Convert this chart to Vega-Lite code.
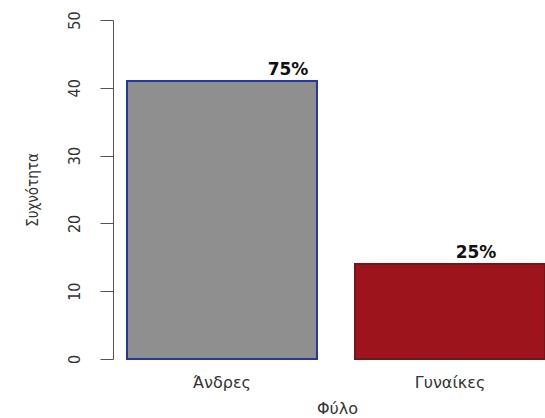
{
  "$schema": "https://vega.github.io/schema/vega-lite/v6.json",
  "autosize": "none",
  "padding": {"left": 113, "top": 20, "right": 0, "bottom": 59},
  "width": 432,
  "height": 339,
  "background": "white",
  "config": {"view": {"stroke": null}},
  "data": {"values": [
    {"sex": "Άνδρες", "count": 41, "label": "75%"},
    {"sex": "Γυναίκες", "count": 14, "label": "25%"}
  ]},
  "encoding": {
    "x": {
      "field": "sex", "type": "nominal", "sort": null,
      "scale": {"paddingInner": 0.1667, "paddingOuter": 0.0307, "align": 1},
      "axis": {
        "title": "Φύλο", "titleFont": "DejaVu Sans", "titleFontSize": 16, "titleFontWeight": "normal",
        "titleColor": "#333", "titlePadding": 10, "titleX": 224,
        "labelAngle": 0, "labelFont": "DejaVu Sans", "labelFontSize": 16, "labelColor": "#333",
        "labelPadding": 15, "labelBaseline": "top",
        "domain": false, "ticks": false
      }
    },
    "y": {
      "field": "count", "type": "quantitative",
      "scale": {"domain": [0, 50], "nice": false, "zero": true},
      "axis": {
        "title": "Συχνότητα", "titleFont": "DejaVu Sans Condensed", "titleFontSize": 15, "titleFontWeight": "normal",
        "titleColor": "#333", "titlePadding": 26,
        "values": [0, 10, 20, 30, 40, 50],
        "labelAngle": 270, "labelAlign": "center", "labelBaseline": "bottom",
        "labelFont": "DejaVu Sans Condensed", "labelFontSize": 16, "labelColor": "#333", "labelPadding": 18,
        "tickSize": 13, "tickColor": "#555", "domainColor": "#555", "grid": false
      }
    }
  },
  "layer": [
    {
      "mark": {"type": "bar", "strokeWidth": 2},
      "encoding": {
        "color": {"field": "sex", "type": "nominal", "scale": {"domain": ["Άνδρες", "Γυναίκες"], "range": ["#8f8f8f", "#9e141c"]}, "legend": null},
        "stroke": {"field": "sex", "type": "nominal", "scale": {"domain": ["Άνδρες", "Γυναίκες"], "range": ["#26399a", "#6a1a1a"]}, "legend": null}
      }
    },
    {
      "transform": [{"filter": "datum.sex === 'Άνδρες'"}],
      "mark": {"type": "text", "font": "DejaVu Sans", "fontWeight": "bold", "fontSize": 17, "color": "#111", "baseline": "alphabetic", "dy": -6, "xOffset": 66},
      "encoding": {"text": {"field": "label"}}
    },
    {
      "transform": [{"filter": "datum.sex === 'Γυναίκες'"}],
      "mark": {"type": "text", "font": "DejaVu Sans", "fontWeight": "bold", "fontSize": 17, "color": "#111", "baseline": "alphabetic", "dy": -6, "xOffset": 26},
      "encoding": {"text": {"field": "label"}}
    }
  ]
}
